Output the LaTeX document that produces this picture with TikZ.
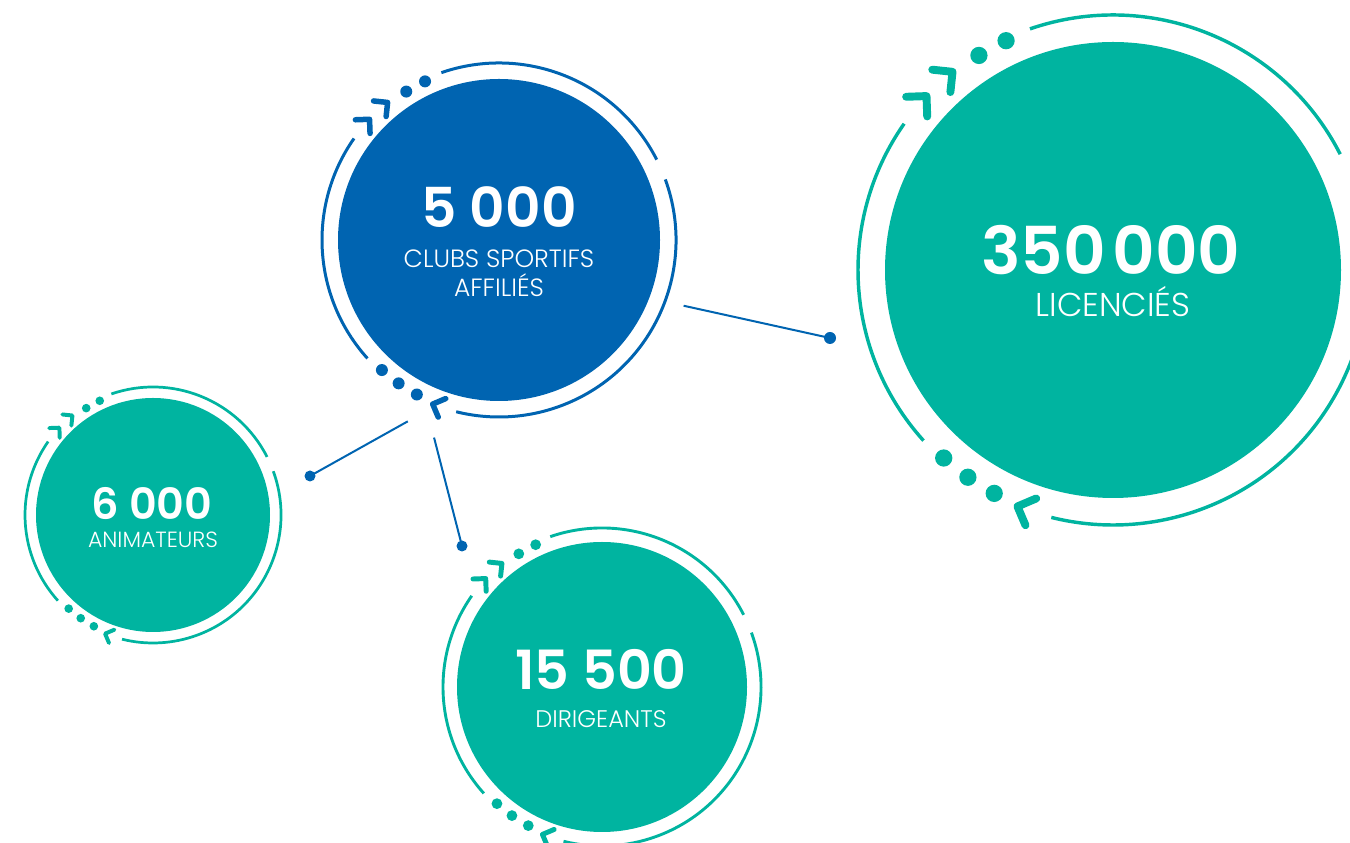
\documentclass[tikz,border=0pt]{standalone}
\usepackage{fontspec}
\setmainfont{Poppins}
\IfFontExistsTF{Poppins SemiBold}{\newfontfamily\numfont{Poppins SemiBold}}{\newfontfamily\numfont{Poppins}[FakeBold=2]}
\IfFontExistsTF{Poppins Light}{\newfontfamily\labfont{Poppins Light}}{\newfontfamily\labfont{Poppins}}
\usepackage{tikz}
\usetikzlibrary{calc, positioning}
\definecolor{rblue}{HTML}{0064B1}
\definecolor{rgreen}{HTML}{00B4A0}

\newcommand{\statring}[4]{%
  \begin{scope}[shift={(#1.center)}, color=#4]
    \draw[line width={(2+#3)*1pt}] (109:#2pt) arc[start angle=109, end angle=27, radius=#2pt];
    \draw[line width={(2+#3)*1pt}] (20:#2pt) arc[start angle=20, end angle=-104, radius=#2pt];
    \draw[line width={(2+#3)*1pt}] (145:#2pt) arc[start angle=145, end angle=222, radius=#2pt];
    \foreach \a in {137,129,-112}
      \draw[rotate=\a, line width={5.5*#3pt}, line cap=round, line join=round]
        ({#2pt+10*#3pt},{10*#3pt}) -- (#2pt,0) -- ({#2pt-10*#3pt},{10*#3pt});
    \foreach \a in {122,115,-118,-125,-132}
      \fill (\a:{#2pt-2pt}) circle[radius={6*#3pt}];
  \end{scope}}

\begin{document}
\begin{tikzpicture}[x=1pt, y=1pt,
    bubble/.style={circle, inner sep=0pt, draw=none},
    numtxt/.style={text=white, inner sep=0pt, anchor=base, font={\numfont\fontsize{#1}{#1}\selectfont}},
    labtxt/.style={text=white, inner sep=0pt, anchor=base, font={\labfont\fontsize{#1}{#1}\selectfont}},
    link/.style={color=rblue, line width=2pt},
    linkdot/.style={circle, fill=rblue, inner sep=0pt, minimum size=11pt}]

    \useasboundingbox (0,0) rectangle (1350,843);
    \clip (0,0) rectangle (1350,843);

    \node[bubble, fill=rblue, minimum size=322pt] (clubs) at (499,603) {};
    \node[bubble, fill=rgreen, minimum size=456pt] (licencies) at (1113,573) {};
    \node[bubble, fill=rgreen, minimum size=234pt] (animateurs) at (153,328) {};
    \node[bubble, fill=rgreen, minimum size=290pt] (dirigeants) at (602,156) {};

    \statring{clubs}{177}{1}{rblue}
    \statring{licencies}{255}{1.44}{rgreen}
    \statring{animateurs}{128}{0.72}{rgreen}
    \statring{dirigeants}{159}{0.9}{rgreen}

    \node[numtxt=55] (clubsnum) at ([yshift=12pt]clubs.center) {5 000};
    \node[labtxt=25] (clubslab1) at ([yshift=-28pt]clubs.center) {CLUBS SPORTIFS};
    \node[labtxt=25] (clubslab2) at ([yshift=-57pt]clubs.center) {AFFILIÉS};

    \node[numtxt=66] (licnum) at ([xshift=-2pt, yshift=-5pt]licencies.center) {350\hspace{0.1em}000};
    \node[labtxt=33] (liclab) at ([yshift=-47pt]licencies.center) {LICENCIÉS};

    \node[numtxt=43] (animnum) at ([xshift=-1pt, yshift=-5pt]animateurs.center) {6 000};
    \node[labtxt=22] (animlab) at ([yshift=-33pt]animateurs.center) {ANIMATEURS};

    \node[numtxt=54] (dirnum) at ([xshift=-1pt, yshift=-3pt]dirigeants.center) {15 500};
    \node[labtxt=24] (dirlab) at ([xshift=-1pt, yshift=-41pt]dirigeants.center) {DIRIGEANTS};

    \coordinate (to-lic) at ($(clubs.center)+(-19.6:196pt)$);
    \coordinate (to-anim) at ($(clubs.center)+(243.3:203pt)$);
    \coordinate (to-dir) at ($(clubs.center)+(251.8:208pt)$);
    \node[linkdot, minimum size=12pt] (licdot) at (830,505) {};
    \node[linkdot] (animdot) at (310,367) {};
    \node[linkdot] (dirdot) at (462,297) {};

    \draw[link] (to-lic) -- (licdot.center);
    \draw[link] (to-anim) -- (animdot.center);
    \draw[link] (to-dir) -- (dirdot.center);

\end{tikzpicture}
\end{document}
